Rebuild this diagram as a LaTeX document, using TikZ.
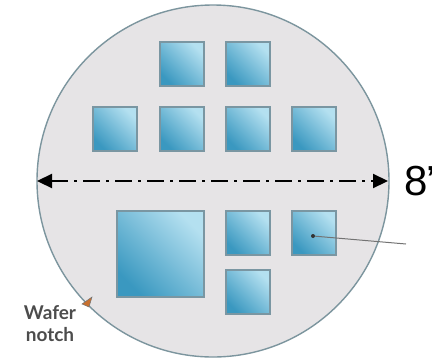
\documentclass[tikz,border=0pt]{standalone}
\usepackage{fontspec}
\setmainfont{Liberation Sans}
\newfontfamily\notchfont{Lato}
\usetikzlibrary{arrows.meta}

\definecolor{waferfill}{HTML}{E6E4E6}
\definecolor{waferedge}{HTML}{7C959E}
\definecolor{diedark}{HTML}{3A98C0}
\definecolor{dielight}{HTML}{B4E0F0}
\definecolor{dieedge}{HTML}{7A96A2}
\definecolor{notchcol}{HTML}{C8702E}

\begin{document}
\begin{tikzpicture}[
    x=1pt, y=-1pt,
    wafer/.style={draw=waferedge,line width=1.4pt,fill=waferfill},
    die/.style={draw=dieedge,line width=1.1pt,inner sep=0pt,
        bottom color=diedark,top color=dielight,shading angle=-45,
        minimum width=44pt,minimum height=44pt},
    bigdie/.style={die,minimum width=87pt,minimum height=86pt},
    diam/.style={black,line width=2.2pt,dash pattern=on 17pt off 6pt on 3pt off 6pt,
        {Triangle[length=15pt,width=14pt]}-{Triangle[length=15pt,width=14pt]}},
    pointer/.style={draw=black!55,line width=1pt}
]

\useasboundingbox (0,0) rectangle (432,360);

% =========================
% WAFER
% =========================
\coordinate (O) at (213,181);
\draw[wafer] (O) circle (176);

% notch marker
\fill[notchcol,draw=black!55,line width=0.5pt]
    (82,304) -- (92,297) -- (89,307) -- cycle;
\node[align=center,text=black!70,font=\notchfont\bfseries\fontsize{19}{22}\selectfont,
    inner sep=0pt] (notch) at (50,324) {Wafer\\notch};

% =========================
% DIES
% =========================
\foreach \x [count=\i] in {182,248}
    \node[die] (t\i) at (\x,64) {};

\foreach \x [count=\i] in {115,182,248,314}
    \node[die] (m\i) at (\x,129) {};

\node[bigdie] (big) at (160.5,254) {};
\node[die] (b1) at (248,233) {};
\node[die] (b2) at (314,233) {};
\node[die] (b3) at (248,292) {};

% =========================
% DIAMETER
% =========================
\coordinate (L) at (37,181);
\coordinate (R) at (388,181);
\draw[diam] (L) -- (R);
\node[anchor=west,inner sep=0pt,font=\fontsize{42}{48}\selectfont] (size) at (404,181) {8"};

% =========================
% POINTER
% =========================
\node[circle,fill=black!80,inner sep=0pt,minimum size=4pt] (dot) at (313,236) {};
\coordinate (tip) at (406,244);
\draw[pointer] (dot) -- (tip);

\end{tikzpicture}
\end{document}
